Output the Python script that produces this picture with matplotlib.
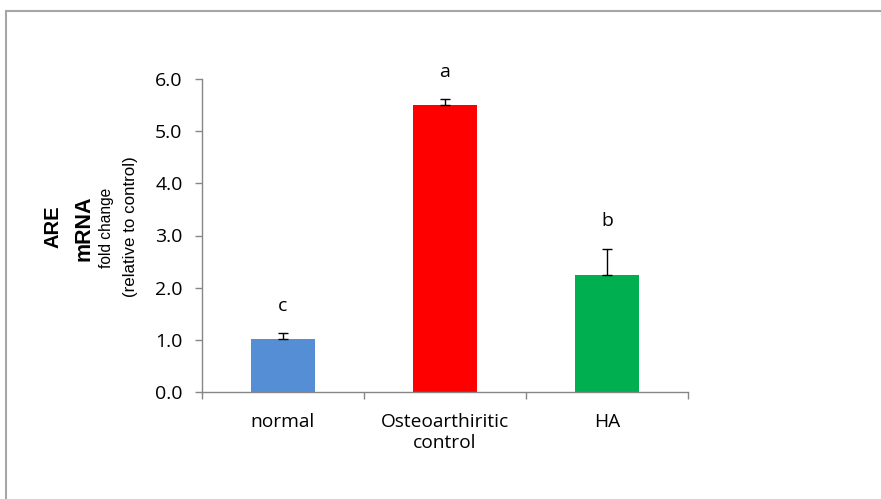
import matplotlib
matplotlib.use("Agg")
import matplotlib.pyplot as plt
from matplotlib.patches import Rectangle
import numpy as np

categories = ["normal", "Osteoarthiritic\ncontrol", "HA"]
values = [1.02, 5.51, 2.25]
errors = [0.11, 0.10, 0.50]
letters = ["c", "a", "b"]
colors = ["#558ED5", "#FF0000", "#00B050"]
yticks = [0.0, 1.0, 2.0, 3.0, 4.0, 5.0, 6.0]

plt.rcParams['font.family'] = ['Open Sans', 'DejaVu Sans']

W, H = 881, 499
fig = plt.figure(figsize=(W/100, H/100), dpi=100)
fig.patches.append(Rectangle((6/W, -0.1), 1.2, (H-11)/H + 0.1, transform=fig.transFigure,
                             fill=False, edgecolor="#a6a6a6", linewidth=1.5))

ax = fig.add_axes([202/W, 1-392/H, (688-202)/W, (392-79)/H])
x = np.arange(len(categories))
ax.bar(x, values, width=0.40, color=colors, zorder=2)
ax.errorbar(x, values, yerr=[np.zeros(3), errors], fmt='none', ecolor='black',
            elinewidth=1.0, capsize=3.3, capthick=1.0, zorder=3)
for xi, v, e, l in zip(x, values, errors, letters):
    ax.text(xi, v + e + 0.52, l, ha='center', va='center', fontsize=14, clip_on=False)

ax.set_xlim(-0.5, 2.5)
ax.set_ylim(0, 6)
ax.set_yticks(yticks)
ax.set_yticklabels([f"{t:.1f}" for t in yticks], fontsize=14)
ax.set_xticks(x)
ax.set_xticklabels(categories, fontsize=13.8, linespacing=1.25)
ax.set_xticks([-0.5, 0.5, 1.5, 2.5], minor=True)
ax.tick_params(axis='x', which='major', length=0, pad=15)
ax.tick_params(axis='x', which='minor', length=5, color="#868686", width=1)
ax.tick_params(axis='y', length=5, color="#868686", width=1, pad=9)
for s in ['top', 'right']:
    ax.spines[s].set_visible(False)
for s in ['left', 'bottom']:
    ax.spines[s].set_color("#868686")
    ax.spines[s].set_linewidth(1)

lab = ['Liberation Sans', 'DejaVu Sans']
fig.text(53/W, 1-227/H, "ARE", rotation=90, fontsize=14.5, fontweight='bold', family=lab, ha='center', va='center')
fig.text(84/W, 1-228/H, "mRNA", rotation=90, fontsize=15.5, fontweight='bold', family=lab, ha='center', va='center')
fig.text(107/W, 1-228/H, "fold change", rotation=90, fontsize=11.2, family=lab, ha='center', va='center')
fig.text(130/W, 1-227/H, "(relative to control)", rotation=90, fontsize=12.2, family=lab, ha='center', va='center')

fig.savefig("out.png", dpi=100)
